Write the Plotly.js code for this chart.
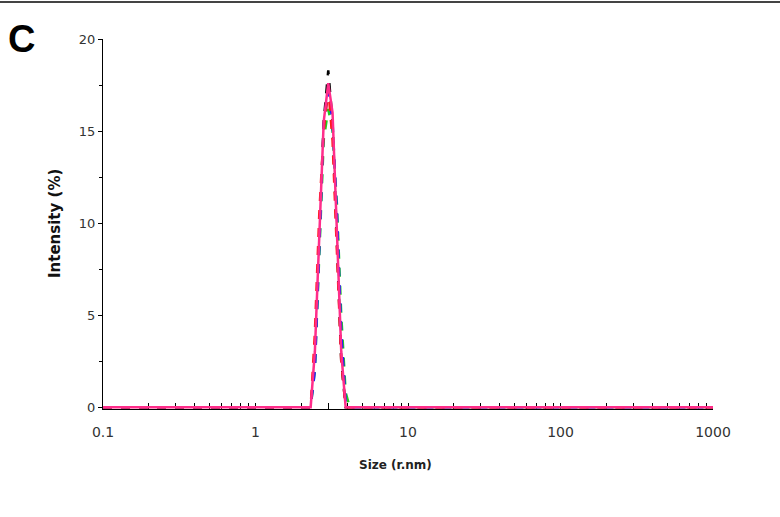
<!DOCTYPE html>
<html>
<head>
<meta charset="utf-8">
<script src="https://cdn.plot.ly/plotly-3.0.1.min.js"></script>
<style>html,body{margin:0;padding:0;background:#fff;}#chart{width:780px;height:517px;}</style>
</head>
<body>
<div id="chart"></div>
<script>
// Size bins (radius, nm)
const sizes = [0.1, 2.3, 2.45, 2.62, 2.8, 3.0, 3.2, 3.42, 3.65, 3.9, 4.15, 1000];
// Intensity (%) per measurement
const seriesBlack   = [0, 0, 2.5, 9.0, 15.5, 18.3, 15.5, 9.0, 2.5, 0, 0, 0];
const seriesRed     = [0, 0, 4.0, 10.5, 15.0, 17.3, 14.5, 8.5, 2.5, 0, 0, 0];
const seriesBlue    = [0, 0, 2.0, 9.0, 15.3, 17.2, 15.5, 10.5, 4.0, 0.3, 0, 0];
const seriesGreen   = [0, 0, 2.0, 8.5, 14.5, 16.2, 15.0, 11.0, 5.0, 0.8, 0, 0];
const seriesMagenta = [0, 0, 3.0, 9.5, 15.5, 17.6, 16.0, 9.5, 3.0, 0, 0, 0];

const xMajor = [0.1, 1, 10, 100, 1000];
const xTickVals = [];
for (let e = -1; e < 3; e++) for (let d = 1; d <= 9; d++) xTickVals.push(+(d * Math.pow(10, e)).toPrecision(3));
xTickVals.push(1000);
const xTickText = xTickVals.map(v => (xMajor.includes(v) ? String(v) : ''));
const yTickVals = [0, 5, 10, 15, 20];
const yMinorVals = [2.5, 7.5, 12.5, 17.5];

function tr(y, color, dash, width) {
  return {x: sizes, y: y, type: 'scatter', mode: 'lines', line: {color: color, dash: dash, width: width}, hoverinfo: 'skip'};
}

const data = [
  tr(seriesBlack, '#000000', 'dash', 2.5),
  tr(seriesGreen, '#22cc22', 'dash', 2.5),
  tr(seriesBlue, '#1a1aff', 'dash', 2.5),
  tr(seriesRed, '#ff1a1a', 'dash', 2.5),
  tr(seriesMagenta, '#ff2d8a', 'solid', 2.5)
];

const F = 'DejaVu Sans, Liberation Sans, Arial, sans-serif';

const layout = {
  width: 780, height: 517,
  margin: {l: 103, r: 67, t: 39, b: 108},
  paper_bgcolor: '#ffffff', plot_bgcolor: '#ffffff',
  showlegend: false,
  font: {family: F, color: '#444'},
  xaxis: {
    type: 'log', range: [-1, 3], showgrid: false, zeroline: false,
    showline: true, linecolor: '#000', linewidth: 1, layer: 'below traces',
    tickmode: 'array', tickvals: xTickVals, ticktext: xTickText,
    ticks: 'inside', ticklen: 6, tickcolor: '#000', tickwidth: 1,
    ticklabelstandoff: 10,
    tickfont: {size: 14, color: '#333', family: F}
  },
  yaxis: {
    range: [-0.1, 20], showgrid: false, zeroline: false,
    showline: true, linecolor: '#000', linewidth: 1, layer: 'below traces',
    tickmode: 'array', tickvals: yTickVals,
    ticks: 'outside', ticklen: 4, tickcolor: '#000', tickwidth: 1,
    minor: {tickvals: yMinorVals, ticks: 'outside', ticklen: 3, tickcolor: '#000'},
    tickfont: {size: 13, color: '#333', family: F}
  },
  annotations: [
    {text: '<b>C</b>', xref: 'paper', yref: 'paper', x: (21 - 103) / 610, y: (409 - 39) / 370, xanchor: 'center', yanchor: 'middle',
     showarrow: false, font: {size: 38, color: '#000', family: 'Liberation Sans, Arial, sans-serif'}},
    {text: '<b>Size (r.nm)</b>', xref: 'paper', yref: 'paper', x: (395 - 103) / 610, y: (409 - 465) / 370, xanchor: 'center', yanchor: 'middle',
     showarrow: false, font: {size: 12, color: '#222', family: F}},
    {text: '<b>Intensity (%)</b>', xref: 'paper', yref: 'paper', x: (55 - 103) / 610, y: (409 - 223) / 370, xanchor: 'center', yanchor: 'middle',
     textangle: -90, showarrow: false, font: {size: 15, color: '#111', family: F}}
  ],
  shapes: [
    {type: 'line', xref: 'paper', yref: 'paper', x0: -0.2, x1: 1.2, y0: 1.1, y1: 1.1, line: {color: '#444', width: 2}}
  ]
};

Plotly.newPlot('chart', data, layout, {displayModeBar: false, staticPlot: true});
</script>
</body>
</html>
